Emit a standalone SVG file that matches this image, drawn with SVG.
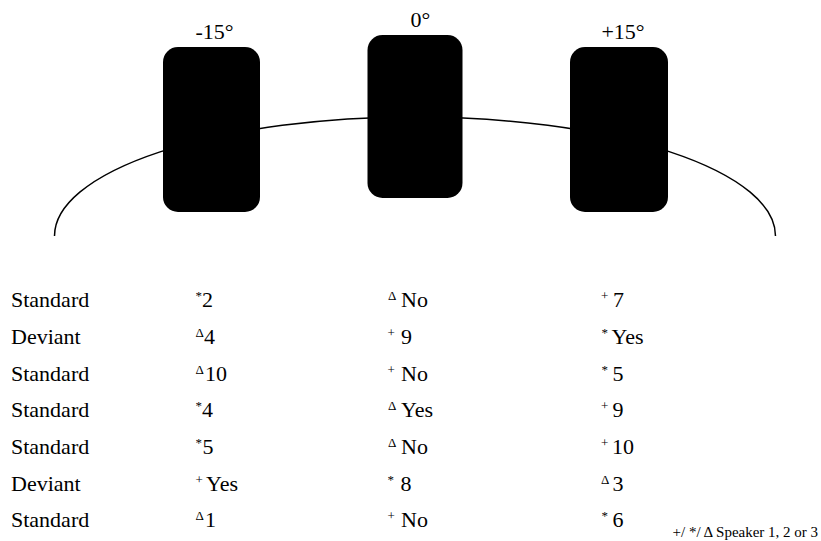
<svg xmlns="http://www.w3.org/2000/svg" width="821" height="541" viewBox="0 0 821 541">
<style>
text{font-family:"Liberation Serif","Times New Roman","DejaVu Serif",serif;fill:#000}
.t{font-size:22px}
.m{font-size:13px}
.lg{font-size:15px}
.spk{fill:#000}
.arc{fill:none;stroke:#000;stroke-width:1.5}
</style>
<rect width="821" height="541" fill="#fff"/>
<g id="connectors">
<path class="arc" d="M 54.5 236 A 360.5 119 0 0 1 775.5 236"/>
</g>
<g id="speaker-left">
<rect class="spk" x="163" y="47" width="97" height="165" rx="15" ry="15"/>
<text class="t" x="214.5" y="38.5" text-anchor="middle">-15°</text>
</g>
<g id="speaker-center">
<rect class="spk" x="367.5" y="35" width="95" height="163" rx="15" ry="15"/>
<text class="t" x="420.5" y="26.5" text-anchor="middle">0°</text>
</g>
<g id="speaker-right">
<rect class="spk" x="570" y="47" width="98" height="165" rx="15" ry="15"/>
<text class="t" x="623" y="38.5" text-anchor="middle">+15°</text>
</g>
<g id="table">
<text class="t" x="11" y="307.3">Standard</text>
<text class="t" x="11" y="344">Deviant</text>
<text class="t" x="11" y="380.7">Standard</text>
<text class="t" x="11" y="417.3">Standard</text>
<text class="t" x="11" y="454">Standard</text>
<text class="t" x="11" y="490.7">Deviant</text>
<text class="t" x="11" y="527.3">Standard</text>

<text class="m" x="195.5" y="300.3">*</text><text class="t" x="202" y="307.3">2</text>
<text class="m" x="195.5" y="337">Δ</text><text class="t" x="204" y="344">4</text>
<text class="m" x="195.5" y="373.7">Δ</text><text class="t" x="205" y="380.7">10</text>
<text class="m" x="195.5" y="410.3">*</text><text class="t" x="202" y="417.3">4</text>
<text class="m" x="195.5" y="447">*</text><text class="t" x="202.5" y="454">5</text>
<text class="m" x="195.5" y="483.7">+</text><text class="t" x="206" y="490.7">Yes</text>
<text class="m" x="195.5" y="520.3">Δ</text><text class="t" x="205" y="527.3">1</text>

<text class="m" x="388" y="300.3">Δ</text><text class="t" x="401" y="307.3">No</text>
<text class="m" x="387.5" y="337">+</text><text class="t" x="401" y="344">9</text>
<text class="m" x="387.5" y="373.7">+</text><text class="t" x="401" y="380.7">No</text>
<text class="m" x="388" y="410.3">Δ</text><text class="t" x="401" y="417.3">Yes</text>
<text class="m" x="388" y="447">Δ</text><text class="t" x="401" y="454">No</text>
<text class="m" x="387.5" y="483.7">*</text><text class="t" x="400.5" y="490.7">8</text>
<text class="m" x="387.5" y="520.3">+</text><text class="t" x="401" y="527.3">No</text>

<text class="m" x="601" y="300.3">+</text><text class="t" x="613" y="307.3">7</text>
<text class="m" x="601.5" y="337">*</text><text class="t" x="611.5" y="344">Yes</text>
<text class="m" x="601.5" y="373.7">*</text><text class="t" x="612.5" y="380.7">5</text>
<text class="m" x="601" y="410.3">+</text><text class="t" x="612.5" y="417.3">9</text>
<text class="m" x="601" y="447">+</text><text class="t" x="612" y="454">10</text>
<text class="m" x="601" y="483.7">Δ</text><text class="t" x="612.5" y="490.7">3</text>
<text class="m" x="601.5" y="520.3">*</text><text class="t" x="612.5" y="527.3">6</text>

<text class="lg" x="672.5" y="537.3">+/ */ Δ Speaker 1, 2 or 3</text>
</g>
</svg>
